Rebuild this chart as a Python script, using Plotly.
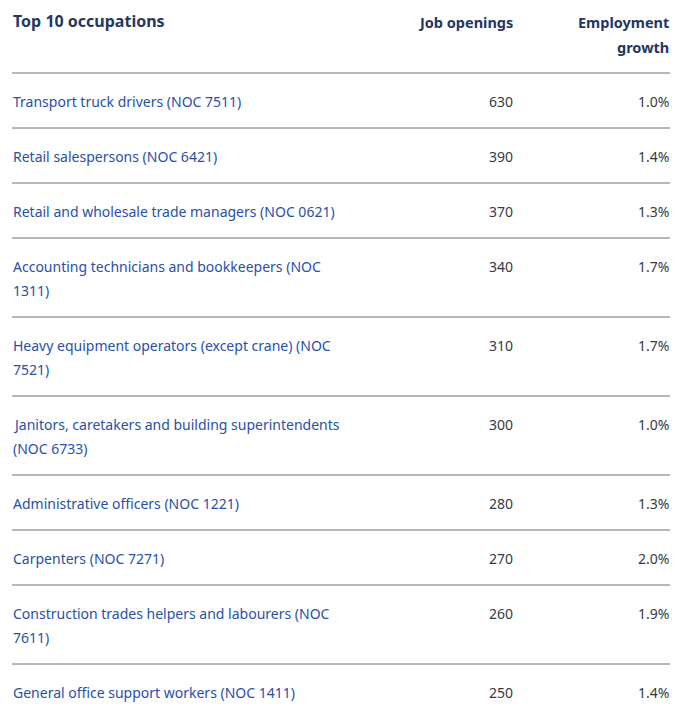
import plotly.graph_objects as go

title = "Top 10 occupations"
col_headers = ["Job openings", "Employment<br>growth"]

occupations = [
    "Transport truck drivers (NOC 7511)",
    "Retail salespersons (NOC 6421)",
    "Retail and wholesale trade managers (NOC 0621)",
    "Accounting technicians and bookkeepers (NOC<br>1311)",
    "Heavy equipment operators (except crane) (NOC<br>7521)",
    "Janitors, caretakers and building superintendents<br>(NOC 6733)",
    "Administrative officers (NOC 1221)",
    "Carpenters (NOC 7271)",
    "Construction trades helpers and labourers (NOC<br>7611)",
    "General office support workers (NOC 1411)",
]
job_openings = [630, 390, 370, 340, 310, 300, 280, 270, 260, 250]
employment_growth = [1.0, 1.4, 1.3, 1.7, 1.7, 1.0, 1.3, 2.0, 1.9, 1.4]

W, H = 685, 717
PAGE_MARGIN = 8  # default body margin of the html page
FONT = "Noto Sans"
HEAD_COLOR = "#24375e"
LINK_COLOR = "#2850a8"
NUM_COLOR = "#333a45"
RULE_COLOR = "#707070"

X_LEFT, X_RIGHT = 12, 670
X_COL1 = 514
HEADER_RULE = 73
ROW_BASE = 55
LINE_H = 24
TEXT_OFFSET = 28

fig = go.Figure()
annotations = []
shapes = []


def add_text(x, y, text, anchor, color, size=14, bold=False):
    annotations.append(dict(x=x, y=y, text=text, xanchor=anchor, yanchor="middle",
                            xref="x", yref="y", showarrow=False, borderpad=0,
                            font=dict(family=FONT, size=size, color=color,
                                      weight="bold" if bold else "normal")))


add_text(X_LEFT, 21, title, "left", HEAD_COLOR, size=16, bold=True)
add_text(X_COL1, 22, col_headers[0], "right", HEAD_COLOR, size=14.5, bold=True)
for i, part in enumerate(col_headers[1].split("<br>")):
    add_text(X_RIGHT, 22 + 25 * i, part, "right", HEAD_COLOR, size=14.5, bold=True)

y = HEADER_RULE
shapes.append(dict(type="line", x0=X_LEFT, x1=X_RIGHT, y0=y, y1=y, xref="x", yref="y",
                   line=dict(color=RULE_COLOR, width=1)))
for name, jobs, growth in zip(occupations, job_openings, employment_growth):
    parts = name.split("<br>")
    ty = y + TEXT_OFFSET
    for i, part in enumerate(parts):
        add_text(X_LEFT, ty + LINE_H * i, part, "left", LINK_COLOR)
    add_text(X_COL1, ty, str(jobs), "right", NUM_COLOR)
    add_text(X_RIGHT, ty, f"{growth:.1f}%", "right", NUM_COLOR)
    y += ROW_BASE + LINE_H * (len(parts) - 1)
    if y < H:
        shapes.append(dict(type="line", x0=X_LEFT, x1=X_RIGHT, y0=y, y1=y, xref="x", yref="y",
                           line=dict(color=RULE_COLOR, width=1)))

fig.update_layout(
    width=W, height=H,
    margin=dict(l=0, r=0, t=0, b=0),
    paper_bgcolor="white", plot_bgcolor="white",
    xaxis=dict(range=[PAGE_MARGIN, W + PAGE_MARGIN], visible=False, fixedrange=True),
    yaxis=dict(range=[H + PAGE_MARGIN, PAGE_MARGIN], visible=False, fixedrange=True),
    annotations=annotations, shapes=shapes,
    showlegend=False,
)
fig.write_html("out.html", config={"displayModeBar": False})
